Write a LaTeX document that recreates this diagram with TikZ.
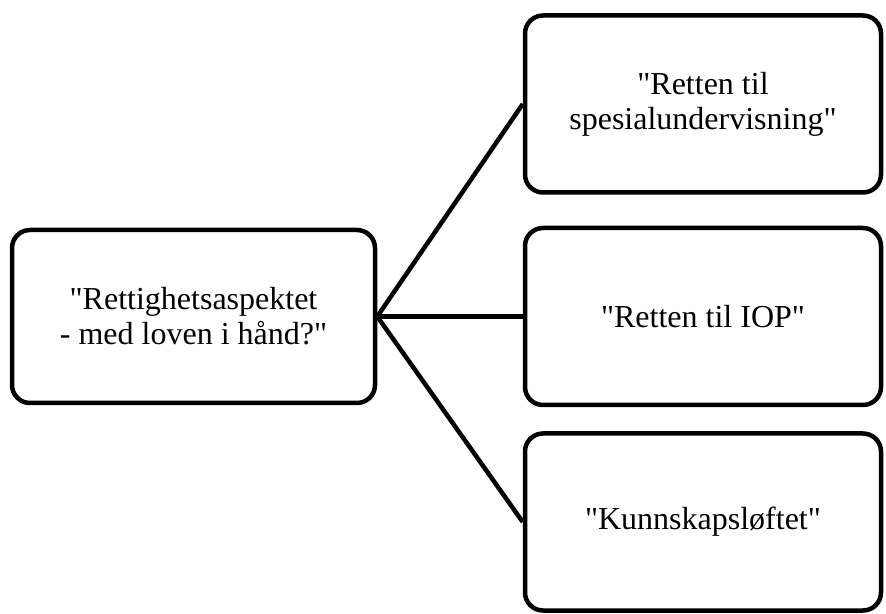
\documentclass[tikz,border=0pt]{standalone}
\usepackage{fontspec}
\setmainfont{Liberation Serif}[Ligatures=TeXOff]
\usetikzlibrary{positioning}

\begin{document}
\begin{tikzpicture}[x=1pt, y=1pt, blk/.style={draw, line width=4.5pt, rounded corners=18pt, align=center, inner sep=0pt, font=\fontsize{32}{35}\selectfont}, sub/.style={blk, minimum width=356pt, minimum height=177pt}]
  \useasboundingbox (0,0) rectangle (886,613);

  \node[blk, minimum width=363pt, minimum height=173pt] (root) at (193.5,296.5) {"Rettighetsaspektet\\- med loven i hånd?"};

  \node[sub] (spes) at (703,509) {"Retten til\\spesialundervisning"};
  \node[sub] (iop) at (703,296.5) {"Retten til IOP"};
  \node[sub] (kunn) at (703,91) {"Kunnskapsløftet"};

  \draw[line width=4.5pt] (root.east) -- (spes.west);
  \draw[line width=4.5pt] (root.east) -- (iop.west);
  \draw[line width=4.5pt] (root.east) -- (kunn.west);
\end{tikzpicture}
\end{document}
